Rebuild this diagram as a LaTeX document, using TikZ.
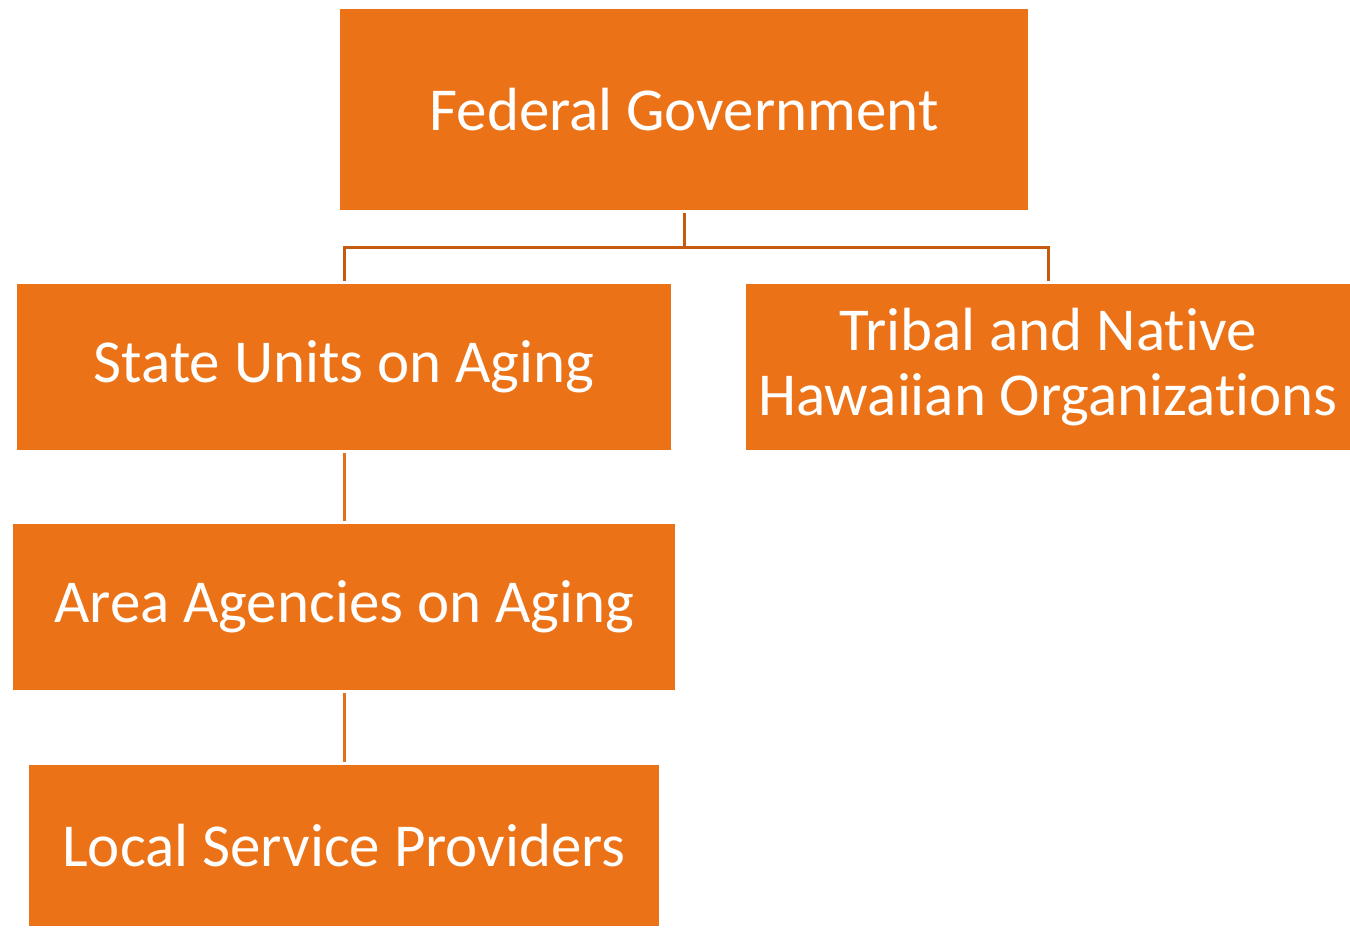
\documentclass[tikz,border=0pt]{standalone}
\usepackage{fontspec}
\setmainfont[Ligatures=NoCommon]{Carlito}
\definecolor{boxfill}{HTML}{EC7217}
\definecolor{linkdark}{HTML}{C55A11}
\definecolor{linklight}{HTML}{E0701C}
\begin{document}
\begin{tikzpicture}[x=1pt,y=-1pt,
  orgbox/.style={draw=none,fill=boxfill,text=white,align=center,inner sep=0pt,
    font=\fontsize{61}{65}\selectfont},
  linkline/.style={line width=3pt}]
\useasboundingbox (0,0) rectangle (1350,927);
\node[orgbox,minimum width=688pt,minimum height=201pt] (fed) at (684,109.5) {Federal Government};
\node[orgbox,minimum width=654pt,minimum height=166pt] (state) at (344,367) {State Units on Aging};
\node[orgbox,minimum width=604pt,minimum height=166pt] (tribal) at (1048,367) {Tribal and Native\\Hawaiian Organizations};
\node[orgbox,minimum width=662pt,minimum height=166pt] (area) at (344,607) {Area Agencies on Aging};
\node[orgbox,minimum width=630pt,minimum height=161pt] (local) at (344,845.5) {Local Service Providers};
\coordinate (jl) at (344,247);
\coordinate (jr) at (1048.5,247);
\coordinate (jm) at (684,247);
\draw[linkline,draw=linkdark] ([yshift=-3pt]fed.south) -- (jm);
\draw[linkline,draw=linkdark] (jm) -- (jl) -- ([yshift=3pt]jl |- state.north);
\draw[linkline,draw=linkdark] (jm) -- (jr) -- ([yshift=3pt]jr |- tribal.north);
\draw[linkline,draw=linklight] ([yshift=-3pt]state.south) -- ([yshift=3pt]area.north);
\draw[linkline,draw=linklight] ([yshift=-3pt]area.south) -- ([yshift=3pt]local.north);
\end{tikzpicture}
\end{document}
